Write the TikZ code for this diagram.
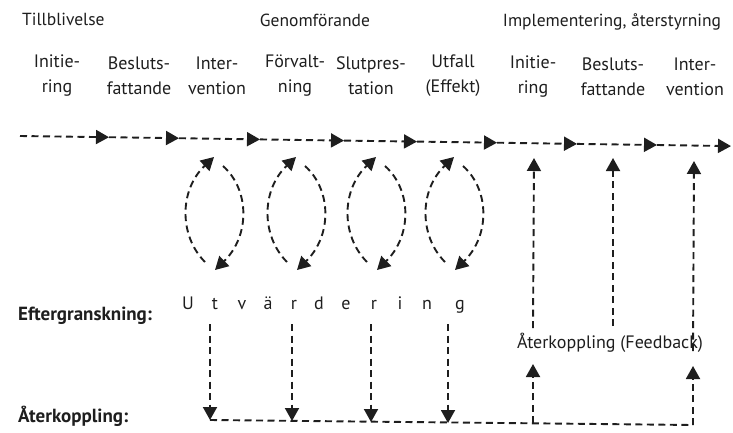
\documentclass[tikz,border=0pt]{standalone}
\usepackage{fontspec}
\setmainfont{PT Sans}
\usetikzlibrary{arrows.meta}
\definecolor{ink}{HTML}{1E1E1E}
\begin{document}
\begin{tikzpicture}[x=1pt,y=-1pt,
  lbl/.style={font=\fontsize{18}{25}\selectfont, align=center, text=ink, inner sep=0pt},
  ttl/.style={font=\fontsize{17.5}{20}\selectfont, text=ink, inner sep=0pt},
  fbl/.style={font=\fontsize{18}{20}\selectfont, text=ink, inner sep=0pt},
  boldlbl/.style={font=\fontsize{19}{20}\selectfont\bfseries, text=ink, inner sep=0pt, anchor=west},
  letter/.style={font=\fontsize{18}{20}\selectfont, text=ink, inner sep=0pt},
  flow/.style={draw=ink, line width=1.9pt, dash pattern=on 7pt off 4.5pt, -{Triangle[length=13pt,width=14pt]}},
  plain/.style={draw=ink, line width=1.9pt, dash pattern=on 7pt off 4.5pt},
]
\useasboundingbox (0,0) rectangle (733,432);

% titles
\node[ttl, anchor=west] (t1) at (22,19) {Tillblivelse};
\node[ttl] (t2) at (315,20) {Genomförande};
\node[ttl] (t3) at (612,22) {Implementering, återstyrning};

% stage labels
\node[lbl] (s1) at (57,76) {Initie-\\ring};
\node[lbl] (s2) at (139,76) {Besluts-\\fattande};
\node[lbl] (s3) at (217,76) {Inter-\\vention};
\node[lbl] (s4) at (295,76) {Förvalt-\\ning};
\node[lbl] (s5) at (371,76) {Slutpres-\\tation};
\node[lbl] (s6) at (453,76) {Utfall\\(Effekt)};
\node[lbl] (s7) at (533,77) {Initie-\\ring};
\node[lbl] (s8) at (613,77) {Besluts-\\fattande};
\node[lbl] (s9) at (695,77) {Inter-\\vention};

% main line
\coordinate (m0) at (20,136);
\coordinate (m1) at (109,137.2);
\coordinate (m2) at (179,138.2);
\coordinate (m3) at (260,139.4);
\coordinate (m4) at (344,140.6);
\coordinate (m5) at (417,141.6);
\coordinate (m6) at (497,142.7);
\coordinate (m7) at (577,143.9);
\coordinate (m8) at (657,145);
\coordinate (m9) at (731,146.1);
\draw[flow] (m0) -- (m1);
\draw[flow] (m1) -- (m2);
\draw[flow] (m2) -- (m3);
\draw[flow] (m3) -- (m4);
\draw[flow] (m4) -- (m5);
\draw[flow] (m5) -- (m6);
\draw[flow] (m6) -- (m7);
\draw[flow] (m7) -- (m8);
\draw[flow] (m8) -- (m9);

% loops
\foreach \cx in {214,296,376,454}{
  \draw[flow] (\cx-9,262) .. controls (\cx-35,236) and (\cx-35,190) .. (\cx,157);
  \draw[flow] (\cx+9,166) .. controls (\cx+36,190) and (\cx+36,236) .. (\cx+1,270);
}

% Eftergranskning row
\node[boldlbl] (eg) at (18,316) {Eftergranskning:};
\node[boldlbl] (ak) at (18,416) {Återkoppling:};
\foreach \ch/\xx [count=\i] in {U/188,t/215,v/242,ä/268,r/294,d/319,e/346,r/374,i/400,n/427,g/460}{
  \node[letter, anchor=base] (u\i) at (\xx,309) {\ch};
}

% down arrows to bottom line
\coordinate (d1s) at (210,324); \coordinate (d1e) at (210,420);
\coordinate (d2s) at (292,324); \coordinate (d2e) at (292,421);
\coordinate (d3s) at (371,324); \coordinate (d3e) at (371,422);
\coordinate (d4s) at (448,324); \coordinate (d4e) at (448,423);
\draw[flow] (d1s) -- (d1e);
\draw[flow] (d2s) -- (d2e);
\draw[flow] (d3s) -- (d3e);
\draw[flow] (d4s) -- (d4e);

% bottom line
\coordinate (b0) at (210,420);
\coordinate (b1) at (533,423.3);
\coordinate (b2) at (693,425);
\draw[plain] (b0) -- (b1) -- (b2);

% feedback label
\node[fbl] (fb) at (610,343) {Återkoppling (Feedback)};

% upward arrows
\coordinate (f1) at (533,364);
\coordinate (f2) at (693,366);
\draw[flow] (b1) -- (f1);
\draw[flow] (b2) -- (f2);

\coordinate (c1s) at (533,328); \coordinate (c1e) at (534,158);
\coordinate (c2s) at (613,326); \coordinate (c2e) at (613,158);
\coordinate (c3s) at (693,351); \coordinate (c3e) at (694,161);
\draw[flow] (c1s) -- (c1e);
\draw[flow] (c2s) -- (c2e);
\draw[flow] (c3s) -- (c3e);
\end{tikzpicture}
\end{document}
